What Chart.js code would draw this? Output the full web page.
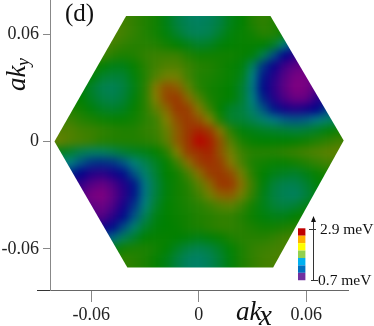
<!DOCTYPE html>
<html>
<head>
<meta charset="utf-8">
<style>html,body{margin:0;padding:0;background:#fff}canvas{display:block}</style>
<script src="https://cdn.jsdelivr.net/npm/chart.js@4/dist/chart.umd.min.js"></script>
</head>
<body>
<canvas id="c" width="374" height="326"></canvas>
<script>
const xTicks = [-0.06, 0, 0.06]
const yTicks = [-0.06, 0, 0.06]
const gridStep = 0.006

// hexagon outline, in ak units
const hexX = [-0.0806, -0.0406, 0.04, 0.0809, 0.0415, -0.0399]
const hexY = [0, 0.0701, 0.0701, 0.0006, -0.0703, -0.0703]

// energy in meV. rowK = grid row, rowStart = first grid column
const rowK = [12, 11, 10, 9, 8, 7, 6, 5, 4, 3, 2, 1, 0, -1, -2, -3, -4, -5, -6, -7, -8, -9, -10, -11, -12]
const rowStart = [-8, -8, -9, -10, -10, -11, -11, -12, -12, -13, -13, -14, -14, -14, -13, -13, -12, -12, -11, -11, -10, -10, -9, -8, -8]
const rowValues = [
  [1.85,1.8,1.75,1.7,1.65,1.55,1.45,1.38,1.36,1.38,1.45,1.55,1.6,1.7,1.75,1.72,1.7],
  [1.85,1.8,1.75,1.7,1.65,1.55,1.45,1.4,1.38,1.4,1.45,1.55,1.6,1.7,1.75,1.7,1.65],
  [1.85,1.85,1.8,1.75,1.7,1.65,1.58,1.5,1.42,1.4,1.42,1.5,1.58,1.62,1.65,1.72,1.7,1.62,1.5],
  [1.85,1.85,1.8,1.75,1.72,1.72,1.7,1.65,1.6,1.55,1.5,1.52,1.58,1.6,1.62,1.62,1.6,1.52,1.3,1.1,1.0],
  [1.8,1.8,1.72,1.68,1.7,1.75,1.78,1.78,1.78,1.7,1.65,1.65,1.65,1.65,1.62,1.58,1.42,1.18,1.0,0.9,0.85],
  [1.7,1.7,1.6,1.55,1.55,1.62,1.72,1.8,1.85,1.85,1.78,1.72,1.7,1.66,1.62,1.58,1.38,1.12,0.98,0.85,0.78,0.76,0.8],
  [1.6,1.6,1.5,1.47,1.48,1.58,1.7,1.85,1.95,1.95,1.8,1.7,1.68,1.65,1.62,1.55,1.3,1.05,0.92,0.8,0.72,0.72,0.78],
  [1.6,1.6,1.5,1.42,1.4,1.45,1.55,1.72,2.05,2.35,2.25,1.9,1.72,1.66,1.63,1.6,1.5,1.28,1.02,0.9,0.78,0.7,0.72,0.8,0.85],
  [1.6,1.6,1.52,1.45,1.43,1.47,1.58,1.72,2.0,2.4,2.5,2.15,1.85,1.68,1.63,1.6,1.5,1.3,1.08,0.92,0.82,0.75,0.76,0.9,0.95],
  [1.7,1.7,1.65,1.58,1.52,1.5,1.53,1.62,1.72,1.9,2.15,2.5,2.45,2.05,1.78,1.6,1.5,1.46,1.35,1.2,1.05,0.95,0.92,0.95,1.0,1.15,1.2],
  [1.78,1.78,1.72,1.68,1.64,1.62,1.62,1.65,1.72,1.78,2.0,2.35,2.5,2.35,2.0,1.68,1.5,1.48,1.42,1.35,1.28,1.22,1.2,1.22,1.28,1.35,1.4],
  [1.85,1.85,1.85,1.8,1.78,1.75,1.72,1.7,1.7,1.75,1.78,1.92,2.25,2.5,2.65,2.5,2.05,1.72,1.58,1.55,1.52,1.5,1.48,1.46,1.48,1.52,1.58,1.65,1.65],
  [1.92,1.92,1.85,1.82,1.78,1.72,1.7,1.7,1.7,1.72,1.75,1.88,2.25,2.5,2.95,2.7,2.3,1.85,1.68,1.62,1.6,1.6,1.6,1.62,1.65,1.7,1.75,1.8,1.8],
  [1.55,1.55,1.5,1.42,1.38,1.38,1.42,1.48,1.52,1.55,1.6,1.72,2.0,2.45,2.55,2.65,2.3,1.95,1.78,1.72,1.72,1.72,1.75,1.78,1.82,1.85,1.88,1.9,1.9],
  [1.3,1.3,1.2,1.12,1.1,1.12,1.2,1.32,1.42,1.52,1.6,1.78,2.1,2.45,2.55,2.45,2.05,1.82,1.68,1.65,1.62,1.62,1.65,1.7,1.75,1.8,1.8],
  [1.1,1.1,1.0,0.92,0.9,0.95,1.03,1.2,1.35,1.48,1.6,1.65,1.82,2.1,2.45,2.5,2.35,1.95,1.72,1.6,1.55,1.52,1.5,1.55,1.62,1.68,1.7],
  [0.9,0.88,0.8,0.76,0.82,0.92,1.05,1.28,1.45,1.58,1.65,1.72,1.88,2.15,2.5,2.5,2.1,1.78,1.58,1.47,1.42,1.42,1.48,1.58,1.6],
  [0.85,0.82,0.72,0.7,0.78,0.9,1.05,1.28,1.46,1.58,1.65,1.7,1.8,1.95,2.2,2.25,1.95,1.75,1.55,1.45,1.4,1.38,1.45,1.55,1.6],
  [0.8,0.78,0.75,0.82,0.95,1.12,1.32,1.5,1.6,1.64,1.68,1.72,1.78,1.85,1.88,1.78,1.65,1.55,1.48,1.45,1.48,1.55,1.6],
  [0.85,0.82,0.8,0.9,1.02,1.2,1.4,1.55,1.6,1.63,1.66,1.7,1.72,1.75,1.75,1.7,1.63,1.58,1.55,1.55,1.6,1.65,1.7],
  [0.95,0.95,1.02,1.18,1.35,1.5,1.58,1.6,1.62,1.66,1.68,1.72,1.75,1.75,1.72,1.68,1.65,1.65,1.68,1.72,1.75],
  [1.15,1.15,1.25,1.4,1.5,1.6,1.62,1.62,1.6,1.58,1.55,1.58,1.62,1.68,1.72,1.72,1.72,1.75,1.8,1.82,1.85],
  [1.5,1.55,1.65,1.68,1.68,1.65,1.6,1.52,1.45,1.42,1.45,1.52,1.6,1.68,1.75,1.78,1.8,1.82,1.85],
  [1.7,1.75,1.72,1.68,1.62,1.55,1.45,1.38,1.36,1.4,1.48,1.58,1.68,1.75,1.8,1.82,1.85],
  [1.7,1.75,1.72,1.68,1.62,1.55,1.45,1.38,1.36,1.4,1.48,1.58,1.68,1.75,1.8,1.82,1.85]
]

const rampValues = [0.7, 1.0, 1.3, 1.6, 2.0, 2.5, 2.9]
const rampColors = [[128,0,128],[0,0,139],[0,128,128],[0,128,0],[128,128,0],[155,55,0],[185,0,0]]

const legendColors = ["#c00000","#ffb000","#ffff00","#92d050","#00b0f0","#0070c0","#7030a0"]
const serif = '"Liberation Serif", serif'

function colorFor(v) {
  let i = 0
  while (i < rampValues.length - 2 && v > rampValues[i + 1]) i++
  const t = Math.min(1, Math.max(0, (v - rampValues[i]) / (rampValues[i + 1] - rampValues[i])))
  const a = rampColors[i], b = rampColors[i + 1]
  return `rgb(${a.map((c, n) => Math.round(c + (b[n] - c) * t)).join(",")})`
}

const points = []
rowValues.forEach((row, r) => {
  row.forEach((v, n) => {
    points.push({ x: (rowStart[r] + n) * gridStep, y: rowK[r] * gridStep, v: v })
  })
})

// smooths the cells and cuts them to the hexagon
const smoothHex = {
  id: "smoothHex",
  afterDatasetsDraw(chart) {
    const { ctx, canvas, scales } = chart
    const tmp = document.createElement("canvas")
    tmp.width = canvas.width
    tmp.height = canvas.height
    const t = tmp.getContext("2d")
    t.filter = "blur(4px)"
    t.drawImage(canvas, 0, 0)
    ctx.save()
    ctx.fillStyle = "#fff"
    ctx.fillRect(0, 0, canvas.width, canvas.height)
    ctx.beginPath()
    hexX.forEach((x, i) => {
      ctx.lineTo(scales.x.getPixelForValue(x), scales.y.getPixelForValue(hexY[i]))
    })
    ctx.closePath()
    ctx.clip()
    ctx.drawImage(tmp, 0, 0)
    ctx.restore()
  }
}

const labels = {
  id: "labels",
  afterDraw(chart) {
    const ctx = chart.ctx
    ctx.save()
    ctx.textBaseline = "alphabetic"

    // stub left of the axis corner
    ctx.fillStyle = "#333"
    ctx.fillRect(37, 290, 13, 1)

    ctx.fillStyle = "#111"
    ctx.font = `25px ${serif}`
    ctx.fillText("(d)", 65, 21)

    ctx.font = `italic 27px ${serif}`
    ctx.fillText("ak", 236, 320)
    ctx.font = `italic 29px ${serif}`
    ctx.fillText("x", 259, 325)

    ctx.save()
    ctx.translate(25, 91)
    ctx.rotate(-Math.PI / 2)
    ctx.font = `italic 27px ${serif}`
    ctx.fillText("ak", 0, 0)
    ctx.font = `italic 18px ${serif}`
    ctx.fillText("y", 25, 4)
    ctx.restore()

    // colour key
    legendColors.forEach((c, i) => {
      ctx.fillStyle = c
      ctx.fillRect(298, 228.3 + i * 7.42, 7.4, 7.42)
    })
    ctx.fillStyle = "#333"
    ctx.fillRect(313, 220, 1, 60)
    ctx.fillRect(309, 229, 7, 1)
    ctx.fillRect(311, 280, 7, 1)
    ctx.beginPath()
    ctx.moveTo(313.5, 216)
    ctx.lineTo(316, 222)
    ctx.lineTo(311, 222)
    ctx.closePath()
    ctx.fillStyle = "#111"
    ctx.fill()
    ctx.font = `15.5px ${serif}`
    ctx.fillText("2.9 meV", 320, 234)
    ctx.fillText("0.7 meV", 318, 285)
    ctx.restore()
  }
}

new Chart(document.getElementById("c"), {
  type: "scatter",
  data: {
    datasets: [{
      data: points,
      pointStyle: "rect",
      pointRadius: 8,
      pointHoverRadius: 8,
      borderWidth: 0,
      pointBorderWidth: 0,
      clip: false,
      pointBackgroundColor: (c) => colorFor(c.raw ? c.raw.v : 1.6)
    }]
  },
  options: {
    responsive: false,
    animation: false,
    events: [],
    layout: { autoPadding: false, padding: { left: 0, right: 26, top: 0, bottom: 0 } },
    plugins: { legend: { display: false }, tooltip: { enabled: false } },
    scales: {
      x: {
        type: "linear",
        min: -0.0831,
        max: 0.0833,
        afterBuildTicks: (axis) => { axis.ticks = xTicks.map((v) => ({ value: v })) },
        afterFit: (axis) => {
          axis.height = 36
          axis.paddingLeft = 0
          axis.paddingRight = 0
        },
        border: { color: "#666", z: 1 },
        grid: { drawOnChartArea: false, tickLength: 12, tickColor: "#888", z: 1 },
        ticks: {
          z: 1,
          padding: 2,
          color: "#222",
          maxRotation: 0,
          font: { family: serif, size: 18 },
          callback: (v) => String(v)
        }
      },
      y: {
        type: "linear",
        min: -0.0829,
        max: 0.079,
        afterBuildTicks: (axis) => { axis.ticks = yTicks.map((v) => ({ value: v })) },
        afterFit: (axis) => {
          axis.width = 50
          axis.paddingTop = 0
          axis.paddingBottom = 0
        },
        border: { color: "#888", z: 1 },
        grid: { drawOnChartArea: false, tickLength: 7, tickColor: "#888", z: 1 },
        ticks: {
          z: 1,
          padding: 4,
          color: "#222",
          font: { family: serif, size: 18 },
          callback: (v) => String(v)
        }
      }
    }
  },
  plugins: [smoothHex, labels]
})
</script>
</body>
</html>
